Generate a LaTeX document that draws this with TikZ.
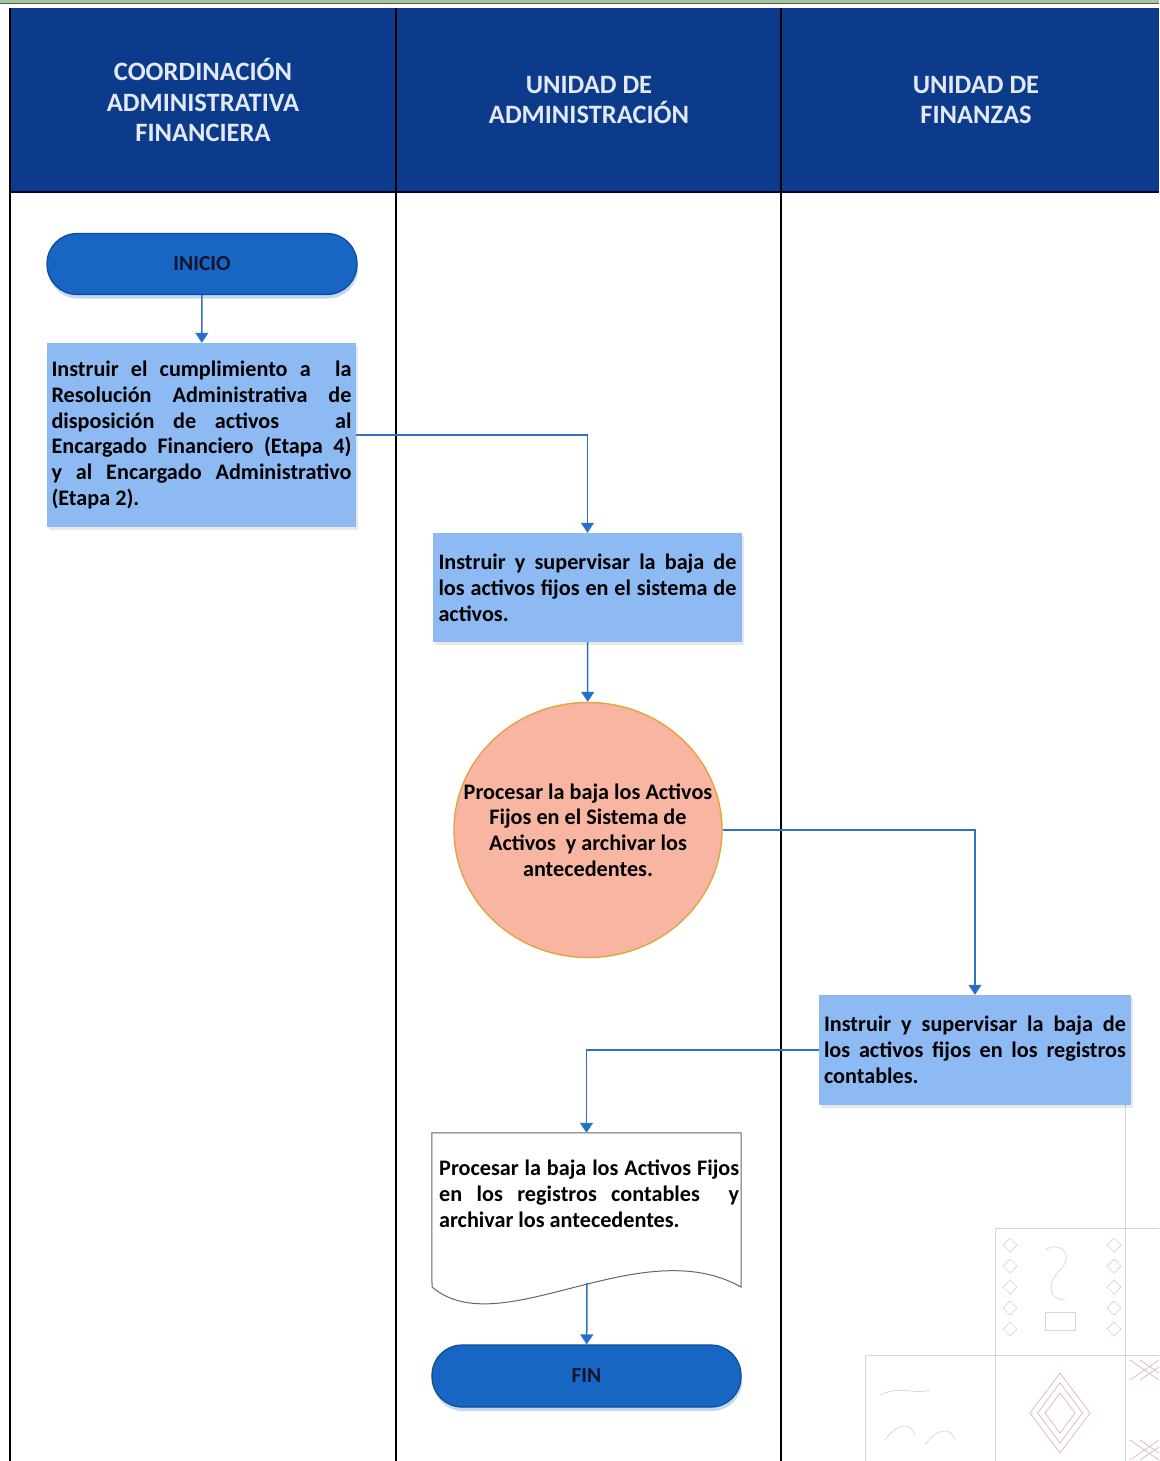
\documentclass[tikz,border=0pt]{standalone}
\usepackage{fontspec}
\setmainfont{Carlito}
\usetikzlibrary{arrows.meta,shapes.geometric,shadows}

\definecolor{headblue}{HTML}{0C3B8C}
\definecolor{pillblue}{HTML}{1766C4}
\definecolor{pilledge}{HTML}{0E4A9A}
\definecolor{procblue}{HTML}{8DBAF2}
\definecolor{flowblue}{HTML}{2F72C4}
\definecolor{tipblue}{HTML}{1F6ED4}
\definecolor{salmon}{HTML}{F8B6A2}
\definecolor{gold}{HTML}{E3A43E}
\definecolor{headtxt}{HTML}{E3E9F2}
\definecolor{inktxt}{HTML}{15152A}
\definecolor{tileline}{HTML}{D6D6D6}
\definecolor{tilepink}{HTML}{E2B5BE}

\tikzset{
  lane/.style={line width=1.8pt, black},
  headtext/.style={text=headtxt, align=center, font=\fontsize{26.5}{30.5}\selectfont\bfseries},
  pill/.style={draw=pilledge, line width=1.2pt, fill=pillblue, rounded corners=30pt,
    minimum width=310pt, minimum height=61pt, text=inktxt,
    font=\fontsize{21.5}{24}\selectfont\bfseries,
    drop shadow={shadow xshift=1pt, shadow yshift=-4pt, opacity=0.25, fill=pillblue}},
  bodyfont/.style={font=\fontsize{22.2}{25.8}\selectfont\bfseries},
  procbox/.style={fill=procblue, inner sep=0pt, text=black, align=justify, bodyfont,
    drop shadow={shadow xshift=2pt, shadow yshift=-3pt, opacity=0.18, fill=gray}},
  flow/.style={draw=flowblue, line width=1.5pt,
    -{Triangle[width=13pt,length=10pt,fill=tipblue]}},
}

\begin{document}
\begin{tikzpicture}[x=1pt,y=-1pt]
\useasboundingbox (0,0) rectangle (1159,1461);
\fill[white] (0,0) rectangle (1159,1461);

% top rule of the page
\fill[green!25!gray!60] (0,0) rectangle (1159,3);
\draw[line width=0.8pt, gray!70!black] (0,3.2) -- (1159,3.2);

% header band
\fill[headblue] (10,8) rectangle (1159,192);
\draw[line width=1.5pt, black!80!blue] (10,192) -- (1159,192);

% lane dividers
\draw[lane] (10,8) -- (10,1461);
\draw[lane] (396,8) -- (396,1461);
\draw[lane] (781,8) -- (781,1461);

% lane titles
\node[headtext] (h1) at (203,100) {COORDINACIÓN\\ADMINISTRATIVA\\FINANCIERA};
\node[headtext] (h2) at (589,100) {UNIDAD DE\\ADMINISTRACIÓN};
\node[headtext] (h3) at (976,100) {UNIDAD DE\\FINANZAS};

% faint decorative tiles, lower right
\begin{scope}[line width=0.7pt]
  \draw[tileline] (1125,1100) -- (1125,1461);
  \draw[tileline] (995,1228) -- (1159,1228);
  \draw[tileline] (995,1228) -- (995,1461);
  \draw[tileline] (865,1355) -- (1159,1355);
  \draw[tileline] (865,1355) -- (865,1461);
  \foreach \yy in {1245,1266,1287,1308,1329} {
    \draw[tileline] (1010,\yy-7) -- (1017,\yy) -- (1010,\yy+7) -- (1003,\yy) -- cycle;
    \draw[tilepink!70] (1114,\yy-7) -- (1121,\yy) -- (1114,\yy+7) -- (1107,\yy) -- cycle;
  }
  \draw[tileline] (1045,1250) .. controls (1060,1240) and (1075,1255) .. (1060,1270)
     .. controls (1045,1285) and (1050,1300) .. (1065,1300);
  \draw[tileline] (1045,1312) rectangle (1075,1330);
  \foreach \s in {40,30,20} {
    \draw[tilepink] (1060,1413-\s) -- (1060+\s*0.75,1413) -- (1060,1413+\s) -- (1060-\s*0.75,1413) -- cycle;
  }
  \foreach \yy in {1360,1440} {
    \draw[tilepink] (1130,\yy) -- (1159,\yy+20);
    \draw[tilepink] (1130,\yy+20) -- (1159,\yy);
    \draw[tilepink] (1140,\yy) -- (1159,\yy+13);
    \draw[tilepink] (1140,\yy+20) -- (1159,\yy+7);
  }
  \draw[tileline] (880,1395) .. controls (900,1385) and (915,1395) .. (930,1390);
  \draw[tileline] (885,1440) .. controls (895,1425) and (910,1420) .. (915,1435);
  \draw[tileline] (925,1445) .. controls (935,1430) and (950,1425) .. (955,1440);
\end{scope}

% flow nodes
\node[pill] (inicio) at (202,264) {INICIO};

\node[procbox, minimum width=309pt, minimum height=184pt, text width=300pt]
  (box1) at (201.5,435) {Instruir el cumplimiento a \ la\linebreak
  Resolución Administrativa de\linebreak
  disposición de activos \ \ al\linebreak
  Encargado Financiero (Etapa 4)\linebreak
  y al Encargado Administrativo\linebreak
  (Etapa 2).};

\node[procbox, minimum width=309pt, minimum height=109pt, text width=298pt]
  (box2) at (587.5,587.5) {Instruir y supervisar la baja de\linebreak
  los activos fijos en el sistema de\linebreak
  activos.};

\node[ellipse, draw=gold, line width=1.4pt, fill=salmon, minimum width=268pt,
  minimum height=255pt, inner sep=0pt] (circ) at (588,830) {};
\node[align=center, text=black, inner sep=0pt, bodyfont] (circtxt) at (circ.center)
  {Procesar la baja los Activos\\Fijos en el Sistema de\\Activos \ y archivar los\\antecedentes.};

\node[procbox, minimum width=312pt, minimum height=110pt, text width=302pt]
  (box3) at (975,1050) {Instruir y supervisar la baja de\linebreak
  los activos fijos en los registros\linebreak
  contables.};

% document shape with wavy lower edge
\node[minimum width=309pt, minimum height=157pt, inner sep=0pt] (doc) at (586.5,1211.5) {};
\draw[fill=white, draw=gray!80!black, line width=1pt]
  (doc.north west) -- (432,1287)
  .. controls (500,1345) and (640,1230) .. (741,1287)
  -- (doc.north east) -- cycle;
\node[anchor=north west, inner sep=0pt, text width=300pt, align=justify, bodyfont]
  (doctxt) at (439,1160) {Procesar la baja los Activos Fijos\linebreak
  en los registros contables \ y\linebreak
  archivar los antecedentes.};
\coordinate (docout) at (587,1283);

\node[pill, minimum width=309pt, minimum height=62pt] (fin) at (586.5,1376) {FIN};

% connectors
\draw[flow] (inicio) -- (box1);
\draw[flow] (box1.east) -| (box2.north);
\draw[flow] (box2) -- (circ);
\draw[flow] (circ.east) -| (box3.north);
\draw[flow] (box3.west) -| (doc.north);
\draw[flow] (docout) -- (fin);
\end{tikzpicture}
\end{document}
